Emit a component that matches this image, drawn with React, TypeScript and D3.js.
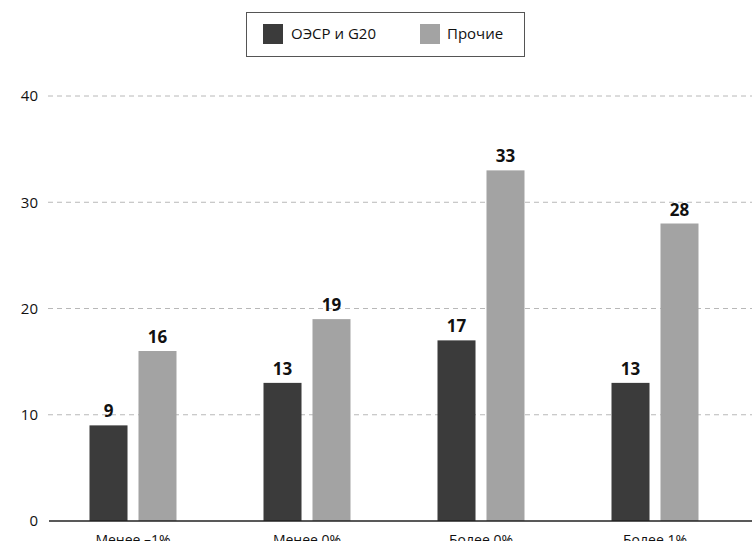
import React from "react";
import * as d3 from "d3";

const categories = ["Менее –1%", "Менее 0%", "Более 0%", "Более 1%"];
const seriesNames = ["ОЭСР и G20", "Прочие"];
const oecdValues = [9, 13, 17, 13];
const otherValues = [16, 19, 33, 28];
const yTicks = [0, 10, 20, 30, 40];
const colors = ["#3b3b3b", "#a3a3a3"];

const W = 752;
const H = 541;
const FONT = "'Open Sans', 'Noto Sans', sans-serif";

export default function App() {
  const y = d3.scaleLinear().domain([0, 40]).range([521, 96]);
  const x = d3.scaleBand<string>().domain(categories).range([46, 742]);
  const inner = d3
    .scaleBand<string>()
    .domain(seriesNames)
    .range([x.bandwidth() / 2 - 43.5, x.bandwidth() / 2 + 43.5])
    .paddingInner(0.224);
  const series = [oecdValues, otherValues];

  return (
    <svg
      width={W}
      height={H}
      style={{ position: "absolute", left: 0, top: 0, background: "#fff" }}
      fontFamily={FONT}
    >
      {/* gridlines and tick labels */}
      {yTicks.map((t) => (
        <g key={t}>
          {t > 0 && (
            <line
              x1={48}
              x2={W}
              y1={y(t)}
              y2={y(t)}
              stroke="#b8b8b8"
              strokeWidth={1}
              strokeDasharray="5,4"
            />
          )}
          <text
            x={38}
            y={y(t)}
            dy="0.35em"
            textAnchor="end"
            fontSize={15}
            fill="#111"
          >
            {t}
          </text>
        </g>
      ))}

      {/* bars with value labels */}
      {categories.map((c, i) => (
        <g key={c} transform={`translate(${x(c)},0)`}>
          {series.map((vals, s) => {
            const bx = inner(seriesNames[s])!;
            const v = vals[i];
            return (
              <g key={s}>
                <rect
                  x={bx}
                  y={y(v)}
                  width={inner.bandwidth()}
                  height={y(0) - y(v)}
                  fill={colors[s]}
                />
                <text
                  x={bx + inner.bandwidth() / 2}
                  y={y(v) - 8}
                  textAnchor="middle"
                  fontSize={17}
                  fontWeight="bold"
                  fill="#111"
                >
                  {v}
                </text>
              </g>
            );
          })}
          <text
            x={x.bandwidth() / 2}
            y={545}
            textAnchor="middle"
            fontSize={14}
            fill="#111"
          >
            {c}
          </text>
        </g>
      ))}

      {/* baseline */}
      <line x1={49} x2={W} y1={y(0)} y2={y(0)} stroke="#222" strokeWidth={1.5} />

      {/* legend */}
      <rect x={246.5} y={12.5} width={278} height={44} fill="#fff" stroke="#555" />
      <rect x={263} y={24} width={20} height={20} fill={colors[0]} />
      <text x={291} y={34} dy="0.35em" fontSize={15} fill="#111">
        {seriesNames[0]}
      </text>
      <rect x={420} y={24} width={20} height={20} fill={colors[1]} />
      <text x={447} y={34} dy="0.35em" fontSize={15} fill="#111">
        {seriesNames[1]}
      </text>
    </svg>
  );
}
